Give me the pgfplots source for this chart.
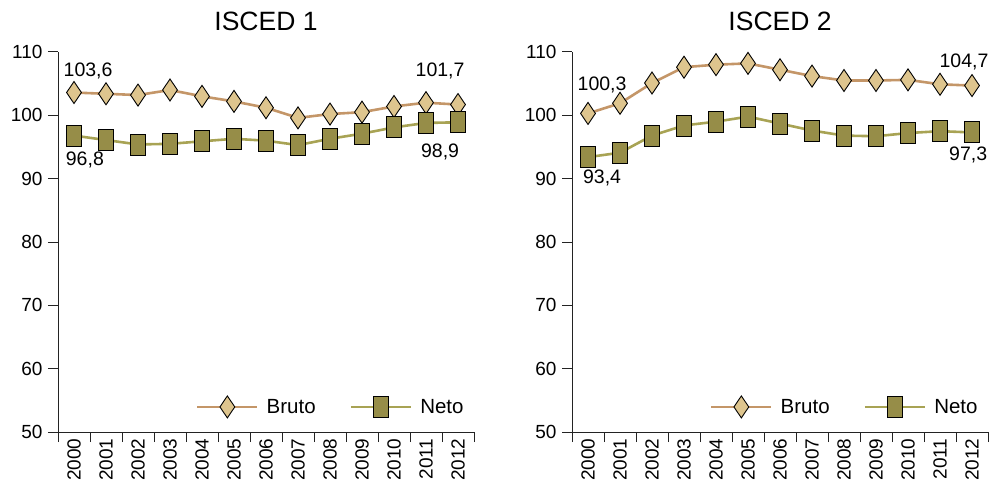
\documentclass[border=0pt]{standalone}
\usepackage{pgfplots}
\pgfplotsset{compat=1.18}
\usepackage{fontspec}
\setmainfont{Liberation Sans}
\definecolor{brutoline}{RGB}{196,150,104}
\definecolor{brutofill}{RGB}{222,197,142}
\definecolor{netoline}{RGB}{168,163,84}
\definecolor{netofill}{RGB}{150,141,72}
\definecolor{axisgray}{RGB}{35,35,35}
\pgfplotstableread{
x bruto neto
0 103.6 96.8
1 103.4 96.1
2 103.2 95.4
3 104.0 95.5
4 103.0 95.9
5 102.2 96.3
6 101.2 96.0
7 99.6 95.3
8 100.2 96.3
9 100.5 97.1
10 101.4 98.1
11 102.0 98.8
12 101.7 98.9
}\isceda
\pgfplotstableread{
x bruto neto
0 100.3 93.4
1 101.9 94.1
2 105.1 96.8
3 107.6 98.4
4 108.0 99.0
5 108.2 99.8
6 107.2 98.7
7 106.2 97.6
8 105.5 96.8
9 105.5 96.7
10 105.6 97.2
11 104.9 97.5
12 104.7 97.3
}\iscedb
\tikzset{lab/.style={font=\fontsize{19.5}{22}\selectfont, anchor=center}}
\pgfplotsset{
 panel/.style={
  scale only axis, width=416pt, height=380pt,
  anchor=south west,
  xmin=-0.5, xmax=12.5, ymin=50, ymax=110,
  axis x line*=bottom, axis y line*=left,
  axis line style={draw=axisgray, line width=1pt},
  every tick/.style={draw=axisgray, line width=1pt},
  tick align=outside,
  major tick length=10pt,
  ytick={50,60,...,110},
  xtick={-0.5,0.5,...,12.5},
  xticklabels={},
  extra x ticks={0,1,...,12},
  extra x tick labels={2000,2001,2002,2003,2004,2005,2006,2007,2008,2009,2010,2011,2012},
  extra x tick style={major tick length=0pt, tick style={draw=none}},
  /pgf/number format/assume math mode=true,
  /pgf/number format/1000 sep={},
  ticklabel style={font=\fontsize{19}{22}\selectfont, text=black},
  xticklabel style={rotate=90, anchor=east, xshift=-3pt},
  yticklabel style={xshift=-2pt},
  clip=false,
  title style={font=\fontsize{26.5}{30}\selectfont, at={(rel axis cs:0.5,1)}, anchor=center, yshift=25pt},
  legend style={at={(0.663,0.066)}, anchor=center, draw=none, fill=none,
    legend columns=2, font=\fontsize{20.5}{24}\selectfont,
    nodes={inner xsep=8pt},
    /tikz/every even column/.append style={column sep=26pt}},
  legend cell align=left,
  legend image code/.code={\draw[mark repeat=2,mark phase=2,##1] plot coordinates {(0pt,0pt) (30pt,0pt) (60pt,0pt)};},
 },
 bruto/.style={draw=brutoline, line width=2.6pt, mark=diamond*, mark size=11pt,
   mark options={fill=brutofill, draw=black, line width=0.9pt, xscale=0.9, solid}},
 neto/.style={draw=netoline, line width=2.6pt, mark=square*, mark size=10.5pt,
   mark options={fill=netofill, draw=black, line width=0.9pt, xscale=0.7, solid}},
}
\begin{document}
\begin{tikzpicture}
\path[use as bounding box] (0pt,0pt) rectangle (994pt,496pt);
\begin{axis}[panel, at={(58pt,64pt)}, title={ISCED 1}]
\addplot[bruto] table[x=x,y=bruto]{\isceda};
\addplot[neto] table[x=x,y=neto]{\isceda};
\legend{Bruto,Neto}
\node[lab] at (axis cs:0.44,107.0) {103,6};
\node[lab] at (axis cs:0.34,92.9) {96,8};
\node[lab] at (axis cs:11.44,107.0) {101,7};
\node[lab] at (axis cs:11.44,94.2) {98,9};
\end{axis}
\begin{axis}[panel, at={(572pt,64pt)}, title={ISCED 2}]
\addplot[bruto] table[x=x,y=bruto]{\iscedb};
\addplot[neto] table[x=x,y=neto]{\iscedb};
\legend{Bruto,Neto}
\node[lab] at (axis cs:0.44,104.8) {100,3};
\node[lab] at (axis cs:0.44,90.1) {93,4};
\node[lab] at (axis cs:11.75,108.4) {104,7};
\node[lab] at (axis cs:11.88,93.7) {97,3};
\end{axis}
\end{tikzpicture}
\end{document}
